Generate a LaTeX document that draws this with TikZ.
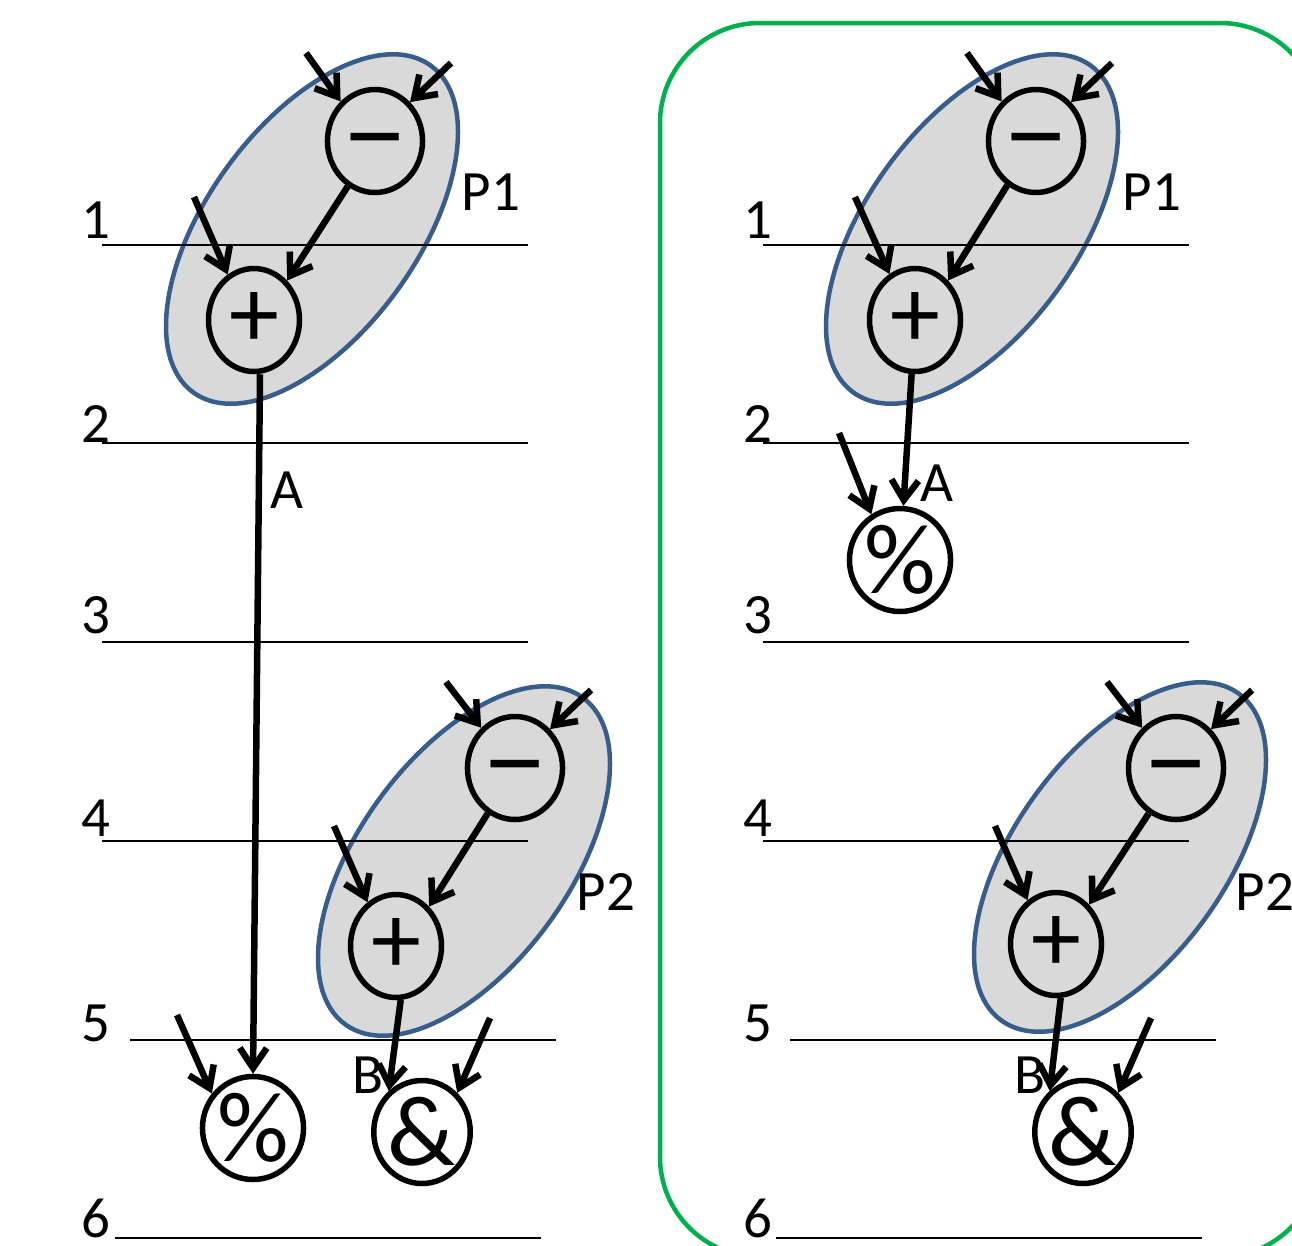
\documentclass[tikz,border=0pt]{standalone}
\usepackage{fontspec}
\setmainfont{Carlito}
\usetikzlibrary{arrows.meta,shapes.geometric}
\definecolor{grayfill}{HTML}{D9D9D9}
\definecolor{blueline}{HTML}{385D8A}
\definecolor{greenline}{HTML}{00B050}
\newcommand{\opminus}{\raisebox{-0.29em}[0pt][0pt]{\scalebox{1.35}[1.2]{–}}}
\begin{document}
\begin{tikzpicture}[x=1pt,y=-1pt,
  op/.style={ellipse, draw, line width=5.5pt, minimum width=91pt, minimum height=103pt, inner sep=0pt, font=\fontsize{100}{100}\selectfont},
  arr/.style={line width=6.5pt, -{Straight Barb[length=20pt,width=27pt]}},
  rulest/.style={line width=2.2pt},
  lbl/.style={inner sep=0pt, font=\fontsize{57}{60}\selectfont},
  grpst/.style={fill=grayfill, draw=blueline, line width=4.5pt}]
\useasboundingbox (0,0) rectangle (1292,1245);
\clip (0,0) rectangle (1292,1245);

% green frame
\draw[greenline, line width=4.5pt, rounded corners=100pt] (660,23) rectangle (1320,1257);

% gray groups
\draw[grpst, rotate around={54:(312,229)}] (312,229) ellipse [x radius=202, y radius=105];
\draw[grpst, rotate around={54:(464,861)}] (464,861) ellipse [x radius=202, y radius=105];
\draw[grpst, rotate around={54:(972,229)}] (972,229) ellipse [x radius=202, y radius=105];
\draw[grpst, rotate around={54:(1120,857)}] (1120,857) ellipse [x radius=202, y radius=105];

% rules and level numbers
\foreach \y in {245,443,642,841}{
  \draw[rulest] (102,\y) -- (528,\y);
  \draw[rulest] (763,\y) -- (1189,\y);
}
\draw[rulest] (130,1040) -- (556,1040);
\draw[rulest] (790,1040) -- (1216,1040);
\draw[rulest] (115,1238) -- (541,1238);
\draw[rulest] (776,1238) -- (1202,1238);
\node[lbl] (n1L) at (96,220) {1};
\node[lbl] (n2L) at (96,424) {2};
\node[lbl] (n3L) at (96,615) {3};
\node[lbl] (n4L) at (96,818) {4};
\node[lbl] (n5L) at (96,1023) {5};
\node[lbl] (n6L) at (96,1218) {6};
\node[lbl] (n1R) at (758,220) {1};
\node[lbl] (n2R) at (758,424) {2};
\node[lbl] (n3R) at (758,615) {3};
\node[lbl] (n4R) at (758,818) {4};
\node[lbl] (n5R) at (758,1023) {5};
\node[lbl] (n6R) at (758,1218) {6};

\node[lbl] (P1L) at (491,192) {P1};
\node[lbl] (P2L) at (606,892) {P2};
\node[lbl] (P1R) at (1152,192) {P1};
\node[lbl] (P2R) at (1265,892) {P2};

% ===== left panel =====
\node[op] (m1) at (375,141) {\opminus};
\node[op] (p1) at (254,320) {+};
\node[op] (m2) at (515,768) {\opminus};
\node[op] (p2) at (396,946) {+};
\node[op] (pc) at (253,1128) {\%};
\node[op] (amp) at (422,1132) {\&};

\coordinate (a1) at (306,53);
\coordinate (a2) at (451,63);
\coordinate (a3) at (194,197);
\coordinate (a4) at (446,682);
\coordinate (a5) at (591,690);
\coordinate (a6) at (334,826);
\coordinate (a7) at (177,1015);
\coordinate (a8) at (490,1018);

\draw[arr] (a1) -- (m1.131);
\draw[arr] (a2) -- (m1.48);
\draw[arr] (a3) -- (p1.120);
\draw[arr] (m1.239) -- (p1.50);
\draw[arr] (a4) -- (m2.130);
\draw[arr] (a5) -- (m2.48);
\draw[arr] (a6) -- (p2.123);
\draw[arr] (m2.239) -- (p2.50);
\draw[arr] ([xshift=6pt]p1.south) -- (pc.north);
\draw[arr] (a7) -- (pc.140);
\draw[arr] (p2.-85) -- (amp.129);
\draw[arr] (a8) -- (amp.48);

\node[lbl] (AL) at (287,490) {A};
\node[lbl] (BL) at (368,1075) {B};

% ===== right panel =====
\node[op] (m1r) at (1036,141) {\opminus};
\node[op] (p1r) at (915,320) {+};
\node[op] (pcr) at (900,560) {\%};
\node[op] (m2r) at (1176,768) {\opminus};
\node[op] (p2r) at (1056,944) {+};
\node[op] (ampr) at (1083,1132) {\&};

\coordinate (b1) at (967,53);
\coordinate (b2) at (1112,63);
\coordinate (b3) at (855,197);
\coordinate (b4) at (839,433);
\coordinate (b5) at (1107,682);
\coordinate (b6) at (1252,690);
\coordinate (b7) at (995,826);
\coordinate (b8) at (1151,1018);

\draw[arr] (b1) -- (m1r.131);
\draw[arr] (b2) -- (m1r.48);
\draw[arr] (b3) -- (p1r.119);
\draw[arr] (m1r.237) -- (p1r.50);
\draw[arr] (p1r) -- (pcr);
\draw[arr] (b4) -- (pcr.122);
\draw[arr] (b5) -- (m2r.130);
\draw[arr] (b6) -- (m2r.48);
\draw[arr] (b7) -- (p2r.123);
\draw[arr] (m2r.239) -- (p2r.50);
\draw[arr] (p2r.-85) -- (ampr.129);
\draw[arr] (b8) -- (ampr.48);

\node[lbl] (AR) at (937,483) {A};
\node[lbl] (BR) at (1030,1075) {B};
\end{tikzpicture}
\end{document}
